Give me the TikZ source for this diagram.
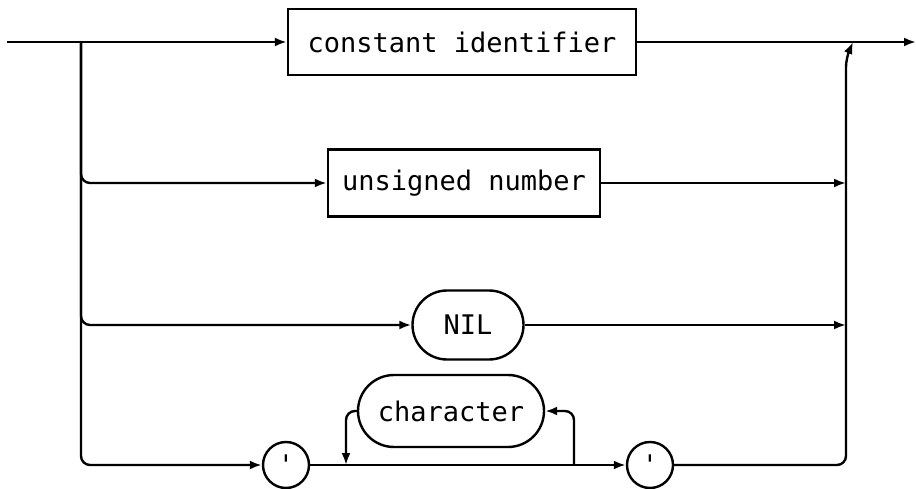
\documentclass[tikz,border=0pt]{standalone}
\usepackage{fontspec}
\setmonofont{DejaVu Sans Mono}
\usetikzlibrary{arrows.meta,shapes.misc}
\tikzset{
  flow/.style = {draw, -{Latex[length=12pt,width=9pt]}, rounded corners=9pt},
  term/.style = {rounded rectangle, draw},
  nonterm/.style = {rectangle, draw}
}
\begin{document}
\begin{tikzpicture}[x=1pt, y=-1pt, line width=2.4pt,
  font=\ttfamily\fontsize{27}{27}\selectfont]
\useasboundingbox (0,0) rectangle (916,489);
\begin{scope}[every node/.style = {inner sep=0pt}]
\node[nonterm, minimum width=348, minimum height=66] (ci) at (462,42) {constant identifier};
\node[nonterm, minimum width=272, minimum height=67] (un) at (464,183) {unsigned number};
\node[term, minimum width=111, minimum height=69] (nil) at (468,325) {NIL};
\node[term, minimum width=186, minimum height=72] (ch) at (451,411) {character};
\node[circle, draw, minimum size=46] (qa) at (286,465) {'};
\node[circle, draw, minimum size=46] (qb) at (650,465) {'};
\end{scope}
\coordinate (start) at (7,42);
\coordinate (split) at (81,42);
\coordinate (railtop) at (846,58);
\coordinate (join) at (853,42);
\coordinate (stop) at (916,42);
\coordinate (rail) at (846,300);
\coordinate (loopr) at (574,465);
\coordinate (loopl) at (346,465);
% main line
\path (start) edge[flow] (ci.west);
\path (ci.east) edge[flow] (stop);
% left rail
\draw[flow] (split) |- (un.west);
\draw[flow] (split) |- (nil.west);
\draw[flow] (split) |- (qa.west);
% right rail
\draw[flow] (un.east) -- (un.east -| rail);
\draw[flow] (nil.east) -- (nil.east -| rail);
\draw[flow] (qb.east) -| (railtop) -- (join);
% string
\draw[flow] (qa.east) -- (qb.west);
\draw[flow] (loopr) |- (ch.east);
\draw[flow] (ch.west) -| (loopl);
\end{tikzpicture}
\end{document}
